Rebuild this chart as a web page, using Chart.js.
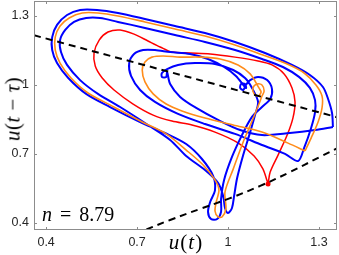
<!DOCTYPE html>
<html>
<head>
<meta charset="utf-8">
<script src="https://cdn.jsdelivr.net/npm/chart.js@4.4.0/dist/chart.umd.min.js"></script>
<style>
  html, body { margin: 0; padding: 0; background: #fff; }
  #wrap { position: relative; width: 339px; height: 255px; }
  canvas { position: absolute; left: 0; top: 0; }
  .lab { position: absolute; font-family: "Liberation Serif", "DejaVu Serif", serif; color: #000; white-space: nowrap; line-height: 1; }
</style>
</head>
<body>
<div id="wrap">
  <canvas id="phase" width="339" height="255"></canvas>
  <div class="lab" style="left:186px;top:242px;font-size:21px;letter-spacing:1px;transform:translate(-50%,-50%);"><i>u</i>(<i>t</i>)</div>
  <div class="lab" style="left:13px;top:109px;font-size:21px;letter-spacing:0.5px;transform:translate(-50%,-50%) rotate(-90deg);"><i>u</i>(<i>t</i> &minus; <i>&tau;</i>)</div>
  <div class="lab" style="left:42px;top:204px;font-size:20px;word-spacing:3px;"><i>n</i> = 8.79</div>
</div>
<script>
// axis ticks
const xTicks = [0.4, 0.7, 1.0, 1.3];
const xTickText = ['0.4', '0.7', '1', '1.3'];
const yTicks = [0.4, 0.7, 1.0, 1.3];
const yTickText = ['0.4', '0.7', '1', '1.3'];

// trajectories: u(t) and u(t - tau)
const blueU = [1.346,1.343,1.330,1.313,1.270,1.211,1.122,1.023,0.924,0.825,0.726,0.637,0.568,0.512,0.469,0.436,0.420,0.420,0.436,0.473,0.532,0.611,0.710,0.792,0.862,0.914,0.951,0.957,0.941,0.934,0.944,0.964,0.977,0.977,0.987,1.013,1.046,1.079,1.112,1.139,1.145,1.129,1.099,1.073,1.059,1.050,1.040,1.043,1.056,1.059,1.026,0.987,0.934,0.875,0.809,0.759,0.720,0.690,0.674,0.680,0.710,0.759,0.835,0.924,1.023,1.112,1.188,1.231,
  1.251,1.274,1.287,1.287,1.270,1.234,1.181,1.112,1.023,0.924,0.825,0.726,0.637,0.578,0.532,0.492,0.463,0.446,0.449,0.469,0.512,0.571,0.644,0.736,0.809,0.862,0.924,0.967,0.984,0.990,1.000,1.013,1.020,1.030,1.050,1.073,1.089,1.099,1.079,1.056,1.017,0.957,0.891,0.835,0.799,0.782,0.782,0.796,0.799,0.809,0.842,0.895,0.967,1.040,1.112,1.204,1.287,1.346];
const blueLag = [0.816,0.877,0.938,0.990,1.042,1.086,1.138,1.186,1.225,1.255,1.286,1.312,1.325,1.325,1.303,1.260,1.207,1.151,1.094,1.029,0.960,0.903,0.838,0.790,0.742,0.677,0.603,0.542,0.490,0.447,0.416,0.416,0.447,0.503,0.586,0.686,0.781,0.860,0.903,0.938,0.981,1.020,1.034,1.020,0.999,0.977,0.986,1.003,1.003,0.986,1.038,1.077,1.112,1.134,1.142,1.151,1.151,1.134,1.094,1.038,0.977,0.925,0.873,0.829,0.786,0.738,0.699,0.668,
  0.725,0.812,0.881,0.933,0.986,1.034,1.077,1.112,1.151,1.186,1.216,1.247,1.273,1.290,1.290,1.273,1.238,1.194,1.142,1.086,1.020,0.960,0.903,0.825,0.760,0.690,0.629,0.573,0.516,0.464,0.442,0.464,0.516,0.594,0.694,0.794,0.868,0.925,0.986,1.029,1.064,1.090,1.094,1.086,1.068,1.051,1.034,1.034,1.055,1.003,0.947,0.899,0.847,0.803,0.781,0.790,0.803,0.816];

const orangeU = [1.254,1.274,1.297,1.310,1.310,1.290,1.251,1.195,1.115,1.023,0.924,0.825,0.726,0.637,0.571,0.519,0.476,0.446,0.430,0.430,0.446,0.482,0.538,0.618,0.717,0.796,0.862,0.918,0.957,0.970,0.961,0.957,0.967,0.980,0.993,0.990,1.017,1.050,1.082,1.102,1.112,1.119,1.112,1.096,1.082,1.086,1.099,1.109,1.102,1.073,1.033,0.974,0.908,0.842,0.786,0.749,0.726,0.717,0.726,0.753,0.796,0.848,0.924,1.017,1.112,1.198,1.254];
const orangeLag = [0.712,0.768,0.838,0.899,0.951,0.999,1.051,1.090,1.129,1.173,1.212,1.242,1.273,1.299,1.312,1.312,1.290,1.255,1.207,1.151,1.094,1.029,0.964,0.907,0.838,0.786,0.716,0.651,0.586,0.542,0.490,0.451,0.425,0.425,0.460,0.534,0.633,0.751,0.851,0.916,0.951,0.973,0.999,1.003,0.986,0.960,0.951,0.968,0.986,1.047,1.086,1.112,1.120,1.120,1.125,1.120,1.099,1.064,1.012,0.960,0.916,0.886,0.855,0.825,0.794,0.746,0.712];

const redU = [1.132,1.139,1.165,1.195,1.214,1.221,1.211,1.185,1.145,1.099,1.023,0.941,0.875,0.815,0.776,0.736,0.690,0.644,0.604,0.575,0.558,0.562,0.585,0.624,0.687,0.753,0.815,0.881,0.957,1.033,1.086,1.115,1.129,1.132];
const redLag = [0.568,0.620,0.694,0.781,0.855,0.925,0.986,1.047,1.086,1.103,1.120,1.134,1.138,1.142,1.164,1.190,1.220,1.238,1.229,1.194,1.138,1.081,1.029,0.977,0.916,0.868,0.842,0.825,0.794,0.747,0.690,0.634,0.581,0.568];

const startU = [1.132];
const startLag = [0.568];

// dashed reference curves
const lineU = [0.36, 1.37];
const lineLag = [1.215, 0.855];
const curveU = [0.694,0.809,0.908,1.007,1.106,1.204,1.303,1.369];
const curveLag = [0.351,0.412,0.460,0.507,0.560,0.620,0.686,0.729];

function pts(xs, ys) {
  return xs.map((v, i) => ({ x: v, y: ys[i] }));
}

// matlab-like box, inward ticks and tick labels
const boxPlugin = {
  id: 'box',
  afterDatasetsDraw(chart) {
    const { ctx, chartArea: a, scales } = chart;
    ctx.save();
    ctx.strokeStyle = '#8c8c8c';
    ctx.lineWidth = 1;
    ctx.strokeRect(a.left + 0.5, a.top + 0.5, a.right - a.left - 1, a.bottom - a.top - 1);
    ctx.beginPath();
    xTicks.forEach(v => {
      const px = Math.round(scales.x.getPixelForValue(v)) + 0.5;
      ctx.moveTo(px, a.bottom); ctx.lineTo(px, a.bottom - 3);
      ctx.moveTo(px, a.top); ctx.lineTo(px, a.top + 3);
    });
    yTicks.forEach(v => {
      const py = Math.round(scales.y.getPixelForValue(v)) + 0.5;
      ctx.moveTo(a.left, py); ctx.lineTo(a.left + 3, py);
      ctx.moveTo(a.right, py); ctx.lineTo(a.right - 3, py);
    });
    ctx.stroke();

    ctx.fillStyle = '#262626';
    ctx.font = '12.5px "Liberation Sans", Arial, sans-serif';
    ctx.textAlign = 'center';
    ctx.textBaseline = 'top';
    xTicks.forEach((v, i) => ctx.fillText(xTickText[i], scales.x.getPixelForValue(v), a.bottom + 6));
    ctx.textAlign = 'right';
    ctx.textBaseline = 'middle';
    yTicks.forEach((v, i) => ctx.fillText(yTickText[i], a.left - 5, scales.y.getPixelForValue(v)));
    ctx.restore();
  }
};

new Chart(document.getElementById('phase'), {
  type: 'scatter',
  data: {
    datasets: [
      { data: pts(lineU, lineLag), showLine: true, borderColor: '#000', borderWidth: 2, borderDash: [7, 5], pointRadius: 0 },
      { data: pts(curveU, curveLag), showLine: true, borderColor: '#000', borderWidth: 2, borderDash: [7, 5], pointRadius: 0, tension: 0.4 },
      { data: pts(startU, startLag), pointRadius: 2.5, pointBackgroundColor: '#ff0000', pointBorderWidth: 0 },
      { data: pts(orangeU, orangeLag), showLine: true, borderColor: '#ff8c1a', borderWidth: 1.6, pointRadius: 0, tension: 0.3 },
      { data: pts(blueU, blueLag), showLine: true, borderColor: '#0000ff', borderWidth: 2, pointRadius: 0, tension: 0.3 },
      { data: pts(redU, redLag), showLine: true, borderColor: '#ff0000', borderWidth: 1.5, pointRadius: 0, tension: 0.3 }
    ]
  },
  options: {
    responsive: false,
    animation: false,
    devicePixelRatio: 1,
    layout: { autoPadding: false, padding: { top: 1, right: 2, left: 0, bottom: 0 } },
    plugins: { legend: { display: false }, tooltip: { enabled: false } },
    scales: {
      x: {
        type: 'linear', min: 0.360, max: 1.3594,
        grid: { display: false }, border: { display: false },
        ticks: { display: false },
        afterFit: s => { s.height = 25; }
      },
      y: {
        type: 'linear', min: 0.3683, max: 1.364,
        grid: { display: false }, border: { display: false },
        ticks: { display: false },
        afterFit: s => { s.width = 34; }
      }
    }
  },
  plugins: [boxPlugin]
});
</script>
</body>
</html>
